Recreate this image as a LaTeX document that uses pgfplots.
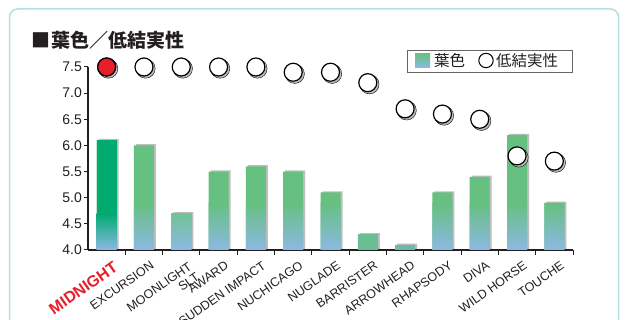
\documentclass[border=0pt]{standalone}
\usepackage{pgfplots}
\pgfplotsset{compat=1.18}
\usepackage{pgfplotstable}
\usepackage{fontspec}
\setmainfont{Liberation Sans}
\newfontfamily\cjk{Noto Sans CJK JP}
\definecolor{bargreen}{RGB}{102,192,128}
\definecolor{barblue}{RGB}{140,185,228}
\definecolor{midgreen}{RGB}{0,170,112}
\definecolor{midteal}{RGB}{45,170,150}
\definecolor{circred}{RGB}{232,30,42}
\definecolor{framec}{RGB}{180,224,224}
\definecolor{txt}{RGB}{35,31,32}
\definecolor{shadowgray}{RGB}{190,190,190}
\definecolor{moontop}{RGB}{112,195,150}
\definecolor{barrc}{RGB}{105,190,148}
\definecolor{arrowc}{RGB}{110,186,168}

\pgfplotstableread{
x bar circ
0 6.1 7.5
1 6.0 7.5
2 4.7 7.5
3 5.5 7.5
4 5.6 7.5
5 5.5 7.4
6 5.1 7.4
7 4.3 7.2
8 4.1 6.7
9 5.1 6.6
10 5.4 6.5
11 6.2 5.8
12 4.9 5.7
}\data

\begin{document}
\begin{tikzpicture}[x=1pt,y=1pt]
\useasboundingbox (0,0) rectangle (629,320);
\clip (0,0) rectangle (629,320);
\fill[white] (0,0) rectangle (629,320);
\draw[framec, line width=1.5pt, rounded corners=8pt] (9.5,-20) rectangle (618.5,311);
\node[anchor=west, text=txt, inner sep=0] at (31,280) {\cjk\bfseries\fontsize{19}{20}\selectfont ■\hspace{1pt}葉色／低結実性};
% legend
\draw[gray!80!black, line width=0.8pt] (407,248) rectangle (572,270);
\shade[top color=bargreen, bottom color=barblue] (415,252.5) rectangle (430,266.5);
\node[anchor=west, inner sep=0, text=txt] at (434,259.5) {\cjk\fontsize{15.5}{16}\selectfont 葉色};
\draw[black, line width=1pt, fill=white] (486,259.5) circle (7.2);
\node[anchor=west, inner sep=0, text=txt] at (496,259.5) {\cjk\fontsize{15.5}{16}\selectfont 低結実性};

\begin{axis}[at={(88pt,70pt)}, anchor=south west, scale only axis,
  width=485pt, height=183pt,
  xmin=-0.5, xmax=12.5, ymin=4, ymax=7.5,
  y coord trafo/.code={\pgfmathparse{#1-4}},
  y coord inv trafo/.code={\pgfmathparse{#1+4}},
  clip=false,
  axis lines*=left,
  axis line style={txt, line width=1.1pt},
  ytick={4,4.5,5,5.5,6,6.5,7,7.5},
  yticklabels={4.0,4.5,5.0,5.5,6.0,6.5,7.0,7.5},
  yticklabel style={font=\fontsize{14}{14}\selectfont, text=txt, inner sep=2pt},
  xtick={0,...,12},
  xticklabels={{\textcolor{circred}{\bfseries\fontsize{16}{16}\selectfont MIDNIGHT}},EXCURSION,{\begin{tabular}{@{}r@{}}MOONLIGHT\hspace{12pt}\\[-1pt]SLT\hspace{-1.3pt}\end{tabular}},AWARD,SUDDEN IMPACT,NUCHICAGO,NUGLADE,BARRISTER,ARROWHEAD,RHAPSODY,DIVA,WILD HORSE,TOUCHE},
  xticklabel style={xshift=6pt, yshift=-5pt, rotate=35, anchor=north east, font=\fontsize{12.5}{14}\selectfont, text=txt, inner sep=1pt},
  major x tick style={draw=none},
  minor xtick={0.5,1.5,...,12.5},
  tick align=outside,
  major tick length=4pt, minor tick length=5pt,
  every tick/.style={txt, line width=1pt},
]
% bar shadows
\addplot[ybar, bar width=20pt, bar shift=2pt, fill=shadowgray, draw=none, yshift=1.2pt] table[x=x,y=bar]{\data};
% main bars
\addplot[ybar, bar width=20pt, bar shift=0pt, fill=bargreen, draw=none] table[x=x,y=bar]{\data};
\addplot[ybar, bar width=20pt, bar shift=0pt, fill=midgreen, draw=none] coordinates {(0,6.1)};
% gradient in the lower part of the bars
\addplot[ybar, bar width=20pt, bar shift=0pt, top color=bargreen, bottom color=barblue, draw=none] coordinates {(1,4.9) (3,4.9) (4,4.9) (5,4.9) (6,4.9) (9,4.9) (10,4.9) (11,4.9) (12,4.9)};
\addplot[ybar, bar width=20pt, bar shift=0pt, top color=midgreen, middle color=midteal, bottom color=barblue, draw=none] coordinates {(0,4.7)};
\addplot[ybar, bar width=20pt, bar shift=0pt, top color=moontop, bottom color=barblue, draw=none] coordinates {(2,4.7)};
\addplot[ybar, bar width=20pt, bar shift=0pt, fill=barrc, draw=none] coordinates {(7,4.3)};
\addplot[ybar, bar width=20pt, bar shift=0pt, fill=arrowc, draw=none] coordinates {(8,4.1)};
% circle shadows
\addplot[only marks, mark=*, mark size=9.6pt, mark options={fill=shadowgray, draw=none}, xshift=1.6pt, yshift=-1.6pt] table[x=x,y=circ]{\data};
% circles
\addplot[only marks, mark=*, mark size=9pt, mark options={fill=white, draw=black, line width=1.2pt}] table[x=x,y=circ]{\data};
\addplot[only marks, mark=*, mark size=9pt, mark options={fill=circred, draw=black, line width=1.2pt}] coordinates {(0,7.5)};
\end{axis}
\end{tikzpicture}
\end{document}
